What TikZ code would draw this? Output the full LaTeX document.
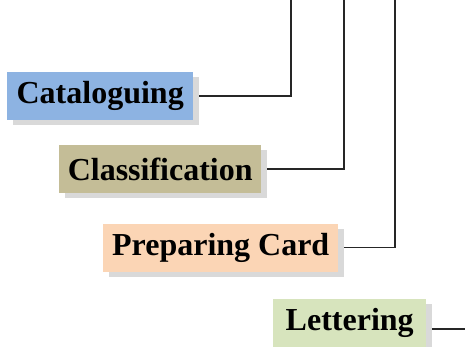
\documentclass[tikz,border=0pt]{standalone}
\usepackage{fontspec}
\setmainfont{Liberation Serif}
\usetikzlibrary{shadows}
\definecolor{catblue}{HTML}{8DB3E2}
\definecolor{clstan}{HTML}{C4BD97}
\definecolor{cardpeach}{HTML}{FBD5B5}
\definecolor{letgreen}{HTML}{D7E4BD}
\definecolor{shadowgray}{HTML}{D9D9D9}
\tikzset{
  task/.style={inner xsep=0pt, minimum height=48pt, anchor=west,
    font=\fontsize{32}{36}\selectfont\bfseries,
    drop shadow={shadow xshift=6pt, shadow yshift=-5pt, fill=shadowgray, opacity=1}},
  link/.style={line width=1.1pt, black!85}
}
\begin{document}
\begin{tikzpicture}[x=1pt, y=-1pt]
\useasboundingbox (0,0) rectangle (465,346);
\clip (0,0) rectangle (465,346);
% task boxes
\node[task, fill=catblue, minimum width=186pt] (cat) at (7,96) {Cataloguing};
\node[task, fill=clstan, minimum width=202pt] (cls) at (59,169) {Classification};
\node[task, fill=cardpeach, minimum width=235pt] (card) at (103,247.5) {Preparing Card};
\node[task, fill=letgreen, minimum width=153pt] (let) at (273,323) {Lettering};
% top ends of the connectors
\coordinate (t1) at (291,-2);
\coordinate (t2) at (344,-2);
\coordinate (t3) at (395,-2);
\coordinate (t4) at (467,329);
% connectors
\draw[link] ([xshift=6pt]cat.east) -| (t1);
\draw[link] ([xshift=6pt]cls.east) -| (t2);
\draw[link] ([xshift=6pt]card.east) -| (t3);
\draw[link] ([xshift=6pt, yshift=-6pt]let.east) -- (t4);
\end{tikzpicture}
\end{document}
